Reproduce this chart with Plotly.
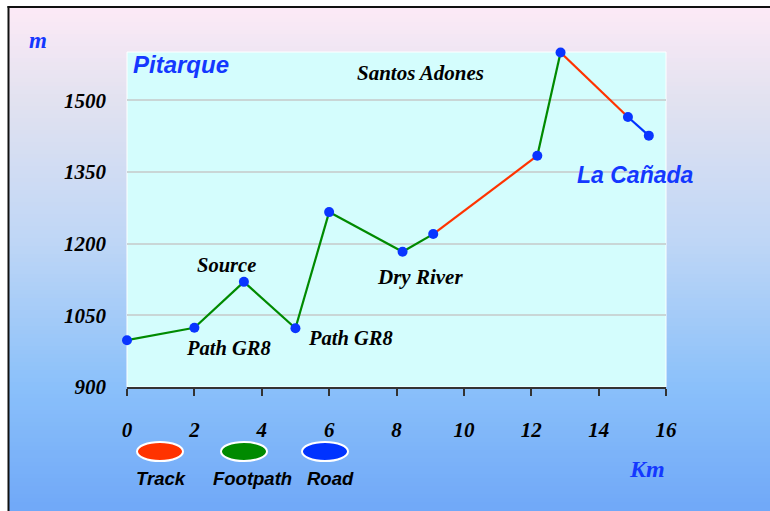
import plotly.graph_objects as go

# ---- data ----
km = [0, 2, 3.47, 5, 6, 8.18, 9.09, 12.18, 12.87, 14.87, 15.49]
elev = [998, 1024, 1120, 1023, 1266, 1183, 1220, 1384, 1600, 1465, 1426]
segment_type = ["Footpath", "Footpath", "Footpath", "Footpath", "Footpath", "Footpath",
                "Track", "Footpath", "Track", "Road"]
x_ticks = [0, 2, 4, 6, 8, 10, 12, 14, 16]
y_ticks = [900, 1050, 1200, 1350, 1500]
legend_names = ["Track", "Footpath", "Road"]
type_colors = {"Track": "#ff3300", "Footpath": "#008a00", "Road": "#0033ff"}

W, H = 770, 511
L, R, T, B = 127, 104, 52, 124
PW, PH = W - L - R, H - T - B

def px(s):
    return (s - L) / PW

def py(s):
    return (H - B - s) / PH

fig = go.Figure()

for i, t in enumerate(segment_type):
    fig.add_trace(go.Scatter(
        x=km[i:i + 2], y=elev[i:i + 2], mode="lines",
        line=dict(color=type_colors[t], width=2.2),
        showlegend=False, hoverinfo="skip", cliponaxis=False))

fig.add_trace(go.Scatter(
    x=km, y=elev, mode="markers",
    marker=dict(color="#0a35ff", size=10, line=dict(width=0)),
    showlegend=False, cliponaxis=False))

# ---- background gradient ----
stops = [(6, (253, 234, 246)), (100, (226, 226, 240)), (243, (190, 214, 246)),
         (387, (138, 192, 250)), (511, (112, 168, 248))]

def col_at(y):
    for (y0, c0), (y1, c1) in zip(stops, stops[1:]):
        if y0 <= y <= y1:
            f = (y - y0) / (y1 - y0)
            return "rgb(%d,%d,%d)" % tuple(round(a + (b - a) * f) for a, b in zip(c0, c1))
    return "rgb(%d,%d,%d)" % stops[-1][1]

shapes = []
step = 4
y = 6
while y < H:
    shapes.append(dict(type="rect", xref="paper", yref="paper", layer="below",
                       x0=px(8), x1=px(W + 2), y0=py(y), y1=py(y + step + 1),
                       line=dict(width=0), fillcolor=col_at(y + step / 2)))
    y += step
# frame lines
shapes.append(dict(type="line", xref="paper", yref="paper", layer="below",
                   x0=px(7.5), x1=px(W + 2), y0=py(7), y1=py(7),
                   line=dict(color="#111", width=2)))
shapes.append(dict(type="line", xref="paper", yref="paper", layer="below",
                   x0=px(8.5), x1=px(8.5), y0=py(6), y1=py(H + 2),
                   line=dict(color="#111", width=2)))
# plot area
shapes.append(dict(type="rect", xref="paper", yref="paper", layer="below",
                   x0=0, x1=1, y0=0, y1=1, fillcolor="#d4fdfd",
                   line=dict(color="#ffffff", width=1)))

# legend ellipses
leg_centers = [160, 244, 325]
for name, cx in zip(legend_names, leg_centers):
    shapes.append(dict(type="circle", xref="paper", yref="paper",
                       x0=px(cx - 23), x1=px(cx + 23), y0=py(442), y1=py(461),
                       fillcolor=type_colors[name], line=dict(color="white", width=2)))

serif = "Liberation Serif, Times New Roman, serif"
sans = "Liberation Sans, Arial, sans-serif"
blue = "#1438ff"

annotations = []

def ann(text, x, y, size, color="black", family=serif):
    annotations.append(dict(text=text, xref="paper", yref="paper", x=px(x), y=py(y),
                            xanchor="center", yanchor="middle", showarrow=False,
                            font=dict(family=family, size=size, color=color,
                                      weight="bold", style="italic")))

ann("m", 38, 40, 23, blue)
ann("Km", 647, 469, 24, blue)
ann("Pitarque", 181, 64, 24, blue, sans)
ann("La Cañada", 635, 175, 23, blue, sans)
ann("Santos Adones", 420, 73, 21)
ann("Source", 226, 265, 20.5)
ann("Path GR8", 228, 348, 20.5)
ann("Path GR8", 350, 338, 20.5)
ann("Dry River", 420, 277, 21)
label_centers = [161, 252, 330]
for name, cx in zip(legend_names, label_centers):
    ann(name, cx, 478, 18.5, "black", sans)

fig.update_layout(
    width=W, height=H,
    margin=dict(l=L, r=R, t=T, b=B, pad=0),
    paper_bgcolor="white",
    plot_bgcolor="rgba(0,0,0,0)",
    shapes=shapes,
    annotations=annotations,
    showlegend=False,
    hovermode=False,
    xaxis=dict(range=[0, 16], tickvals=x_ticks, ticktext=[str(v) for v in x_ticks],
               showgrid=False, zeroline=False, showline=True, linecolor="#333",
               linewidth=1.5, ticks="outside", ticklen=7, tickcolor="#333", tickwidth=1.5,
               ticklabelstandoff=16,
               tickfont=dict(family=serif, size=21, color="black", weight="bold", style="italic")),
    yaxis=dict(range=[900, 1601], tickvals=y_ticks, ticktext=[str(v) for v in y_ticks],
               showgrid=True, gridcolor="#c9d6d6", gridwidth=2, zeroline=False,
               showline=False, ticks="", ticklabelstandoff=20,
               tickfont=dict(family=serif, size=21, color="black", weight="bold", style="italic")),
)

fig.write_html(
    "out.html",
    config={"displayModeBar": False},
    post_script="document.body.style.margin='0';document.body.style.overflow='hidden';",
)
